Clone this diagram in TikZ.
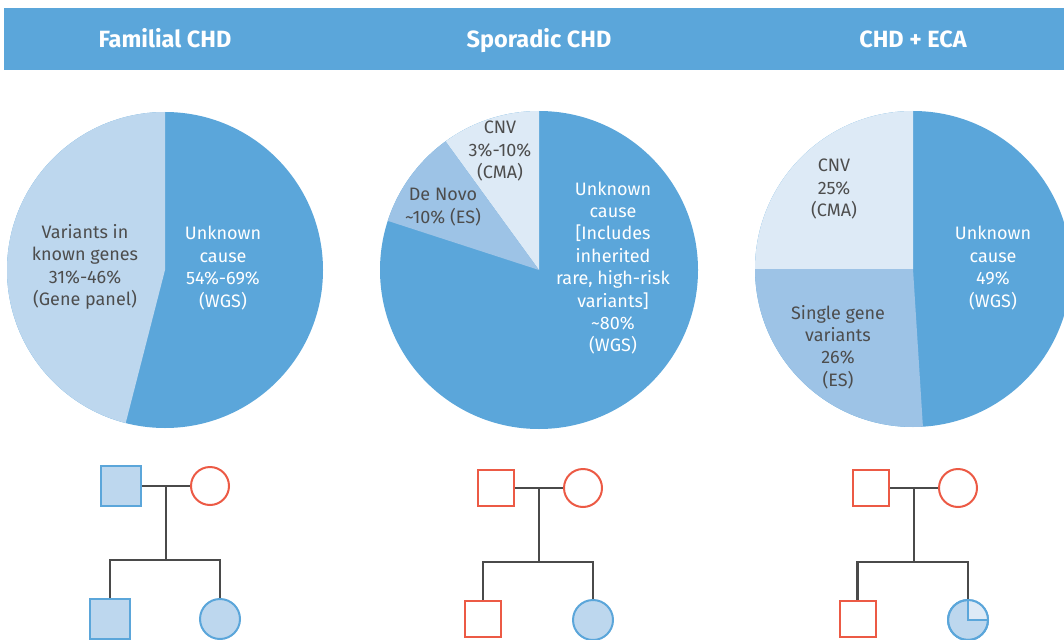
\documentclass[tikz,border=0pt]{standalone}
\usepackage{fontspec}
\setmainfont{Fira Sans}
\definecolor{hdr}{HTML}{5BA6DA}
\definecolor{dkb}{HTML}{5BA6DA}
\definecolor{ltb}{HTML}{BDD7EE}
\definecolor{mdb}{HTML}{9DC3E6}
\definecolor{pale}{HTML}{DDEAF6}
\definecolor{txtg}{HTML}{4D4D4D}
\definecolor{redc}{HTML}{EC5A45}
\definecolor{linec}{HTML}{4A4A4A}
\begin{document}
\begin{tikzpicture}[x=1pt,y=-1pt,
  hdrtext/.style={text=white,anchor=base,font=\bfseries\fontsize{23.5}{28}\selectfont},
  pietext/.style={align=center,font=\fontsize{18}{22.4}\selectfont,inner sep=0pt},
  graytext/.style={pietext,text=txtg},
  whitetext/.style={pietext,text=white},
  male/.style={rectangle,draw,line width=2pt,inner sep=0pt},
  female/.style={circle,draw,line width=2pt,inner sep=0pt},
  unaff/.style={draw=redc,fill=white},
  aff/.style={draw=dkb,fill=ltb},
  kin/.style={draw=linec,line width=2.2pt}]
\useasboundingbox (0,0) rectangle (1064,639);
\clip (0,0) rectangle (1064,639);
% header
\fill[hdr] (4,8) rectangle (1064,70);
\node[hdrtext] (h1) at (165,48) {Familial CHD};
\node[hdrtext] (h2) at (539,48) {Sporadic CHD};
\node[hdrtext] (h3) at (913,48) {CHD + ECA};
% pie 1
\coordinate (P1) at (165,270);
\fill[dkb] (P1) circle[radius=158];
\fill[ltb] (P1) -- ++(-90:158) arc[start angle=-90,end angle=-255.6,radius=158] -- cycle;
\node[graytext] (p1a) at (85,267) {Variants in\\known genes\\31\%-46\%\\(Gene panel)};
\node[whitetext] (p1b) at (223,268) {Unknown\\cause\\54\%-69\%\\(WGS)};
% pie 2
\coordinate (P2) at (539,270);
\fill[dkb] (P2) circle[radius=159];
\fill[pale] (P2) -- ++(-90:159) arc[start angle=-90,end angle=-126,radius=159] -- cycle;
\fill[mdb] (P2) -- ++(-126:159) arc[start angle=-126,end angle=-162,radius=159] -- cycle;
\node[graytext] (p2a) at (500,151) {CNV\\3\%-10\%\\(CMA)};
\node[graytext] (p2b) at (443,207) {De Novo\\\textasciitilde10\% (ES)};
\node[whitetext] (p2c) at (613,268) {Unknown\\cause\\{[}Includes\\inherited\\rare, high-risk\\variants{]}\\\textasciitilde80\%\\(WGS)};
% pie 3
\coordinate (P3) at (913,269);
\fill[dkb] (P3) circle[radius=158];
\fill[pale] (P3) -- ++(-90:158) arc[start angle=-90,end angle=-180,radius=158] -- cycle;
\fill[mdb] (P3) -- ++(-180:158) arc[start angle=-180,end angle=-273.6,radius=158] -- cycle;
\node[graytext] (p3a) at (834,189) {CNV\\25\%\\(CMA)};
\node[graytext] (p3b) at (838,347) {Single gene\\variants\\26\%\\(ES)};
\node[whitetext] (p3c) at (993,268) {Unknown\\cause\\49\%\\(WGS)};
% pedigree 1
\node[male,aff,minimum size=40pt] (f1) at (121,486) {};
\node[female,unaff,minimum size=38pt] (m1) at (210,486) {};
\node[male,aff,minimum size=40pt] (s1) at (110,619) {};
\node[female,aff,minimum size=40pt] (d1) at (220,619) {};
\coordinate (u1) at (166,486);
\coordinate (v1) at (166,560);
\draw[kin] (f1.east) -- (m1.west);
\draw[kin] (u1) -- (v1);
\draw[kin] (s1.north) |- (v1) -| (d1.north);
% pedigree 2
\node[male,unaff,minimum size=36pt] (f2) at (496,488) {};
\node[female,unaff,minimum size=38pt] (m2) at (583,488) {};
\node[male,unaff,minimum size=36pt] (s2) at (483,619) {};
\node[female,aff,minimum size=40pt] (d2) at (593,620) {};
\coordinate (u2) at (539,488);
\coordinate (v2) at (539,562);
\draw[kin] (f2.east) -- (m2.west);
\draw[kin] (u2) -- (v2);
\draw[kin] (s2.north) |- (v2) -| (d2.north);
% pedigree 3
\node[male,unaff,minimum size=36pt] (f3) at (871,488) {};
\node[female,unaff,minimum size=38pt] (m3) at (958,488) {};
\node[male,unaff,minimum size=36pt] (s3) at (857.5,619) {};
\node[female,aff,minimum size=40pt] (d3) at (968,620) {};
\fill[pale] (d3.center) -- (d3.north) arc[start angle=-90,end angle=0,radius=20] -- cycle;
\draw[dkb,line width=2pt] (d3.north) -- (d3.center) -- (d3.east);
\draw[dkb,line width=2pt] (d3) circle[radius=20];
\coordinate (u3) at (914,488);
\coordinate (v3) at (914,562);
\draw[kin] (f3.east) -- (m3.west);
\draw[kin] (u3) -- (v3);
\draw[kin] (s3.north) |- (v3) -| (d3.north);
\end{tikzpicture}
\end{document}
